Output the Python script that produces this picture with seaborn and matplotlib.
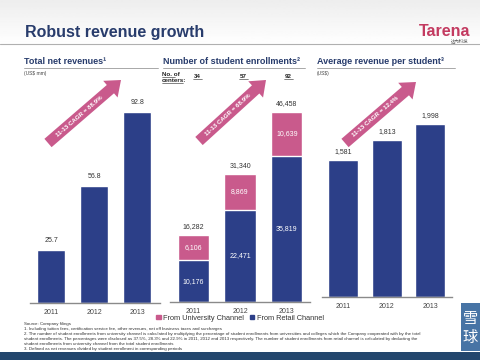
import numpy as np
import pandas as pd
import seaborn as sns
import matplotlib.pyplot as plt
from matplotlib.patches import FancyArrow, Rectangle, Patch

# 数据
years = ["2011", "2012", "2013"]
revenues = [25.7, 56.8, 92.8]
university = [6106, 8869, 10639]
retail = [10176, 22471, 35819]
totals = [16282, 31340, 46458]
centers = [34, 57, 92]
rev_per_student = [1581, 1813, 1998]
cagr_labels = ["11-13 CAGR = 88.9%", "11-13 CAGR = 68.9%", "11-13 CAGR = 12.4%"]

NAVY = "#2c3f88"
PINK = "#c95a8c"
TITLE_C = "#283c6c"

sns.set_theme(style="white")
plt.rcParams['font.family'] = ['Liberation Sans', 'DejaVu Sans']

fig = plt.figure(figsize=(4.8, 3.6), dpi=100)
W, H = 480, 360

def fbox(x0, x1, y_base, height_px):
    return [x0 / W, 1 - y_base / H, (x1 - x0) / W, height_px / H]

# 背景
bg = fig.add_axes([0, 0, 1, 1], zorder=0)
bg.set_xlim(0, W); bg.set_ylim(H, 0); bg.axis("off")
grad = np.linspace(0.93, 1.0, 50)[:, None]
bg.imshow(grad, cmap="gray", vmin=0, vmax=1, extent=[0, W, 45, 0], aspect="auto")

def style_ax(ax):
    sns.despine(ax=ax, left=True)
    ax.spines["bottom"].set_color("#8a8a8a")
    ax.spines["bottom"].set_linewidth(1.0)
    ax.set_yticks([])
    ax.set_xlabel("")
    ax.set_ylabel("")
    ax.tick_params(axis="x", length=0, labelsize=5, pad=4, colors="#444444")
    ax.patch.set_alpha(0)

# 面板1: 总收入
ax1 = fig.add_axes(fbox(30, 160, 303, 206), zorder=1)
df1 = pd.DataFrame({"year": years, "value": revenues})
sns.barplot(data=df1, x="year", y="value", color=NAVY, width=0.65, saturation=1, ax=ax1)
ax1.set_xlim(-0.49, 2.53); ax1.set_ylim(0, 100)
for i, v in enumerate(revenues):
    ax1.text(i, v + 3, f"{v:.1f}", ha="center", va="bottom", fontsize=5, color="#333333")
style_ax(ax1)

# 面板2: 学生人数 (堆叠)
ax2 = fig.add_axes(fbox(170, 310, 302, 204.5), zorder=1)
df2 = pd.DataFrame({"year": years, "total": totals, "retail": retail})
sns.barplot(data=df2, x="year", y="total", color=PINK, width=0.66, saturation=1, ax=ax2)
sns.barplot(data=df2, x="year", y="retail", color=NAVY, width=0.66, saturation=1, ax=ax2)
ax2.set_xlim(-0.49, 2.49); ax2.set_ylim(0, 50000)
for i in range(3):
    ax2.text(i, totals[i] + 1200, f"{totals[i]:,}", ha="center", va="bottom", fontsize=5, color="#333333")
    ax2.text(i, retail[i] + university[i] / 2, f"{university[i]:,}", ha="center", va="center", fontsize=5, color="white")
    ax2.text(i, retail[i] / 2, f"{retail[i]:,}", ha="center", va="center", fontsize=5, color="white")
style_ax(ax2)
ax2.legend(handles=[Patch(color=PINK, label="From University Channel"),
                    Patch(color=NAVY, label="From Retail Channel")],
           loc="center", bbox_to_anchor=(0.5, 1 - 318 / H), bbox_transform=fig.transFigure,
           ncol=2, frameon=False, fontsize=5.3, handlelength=0.6, handleheight=0.6,
           handletextpad=0.3, columnspacing=0.8, labelcolor="#333333")

# 面板3: 人均收入
ax3 = fig.add_axes(fbox(322, 452, 297, 190.5), zorder=1)
df3 = pd.DataFrame({"year": years, "value": rev_per_student})
sns.barplot(data=df3, x="year", y="value", color=NAVY, width=0.69, saturation=1, ax=ax3)
ax3.set_xlim(-0.49, 2.5); ax3.set_ylim(0, 2200)
for i, v in enumerate(rev_per_student):
    ax3.text(i, v + 60, f"{v:,}", ha="center", va="bottom", fontsize=5, color="#333333")
style_ax(ax3)

# 覆盖层: 标题、箭头、脚注
ov = fig.add_axes([0, 0, 1, 1], zorder=3)
ov.set_xlim(0, W); ov.set_ylim(H, 0); ov.axis("off")

ov.text(25, 33, "Robust revenue growth", fontsize=11.5, fontweight="bold", color=TITLE_C, va="center")
ov.plot([0, W], [44, 44], color="#b0b0b0", lw=0.8)
ov.text(470, 31, "Tarena", fontsize=11.5, fontweight="bold", color="#c33a60", ha="right", va="center")
ov.text(468, 41, "达内科技", fontsize=3.2, color="#555555", ha="right", va="center",
        family=["Noto Sans CJK SC", "DejaVu Sans"])

panel_titles = [(24, 158, "Total net revenues¹", "(US$ mm)"),
                (163, 305, "Number of student enrollments²", None),
                (317, 455, "Average revenue per student³", "(US$)")]
for x0, x1, t, unit in panel_titles:
    ov.text(x0, 62, t, fontsize=6.5, fontweight="bold", color=TITLE_C, va="center")
    ov.plot([x0, x1], [67.5, 67.5], color="#9a9a9a", lw=0.6)
    if unit:
        ov.text(x0, 73, unit, fontsize=3.5, color="#444444", va="center")

# 中心数量
ov.text(162, 74, "No. of", fontsize=4.5, fontweight="bold", color="#222222", va="center")
ov.text(162, 80, "centers:", fontsize=4.5, fontweight="bold", color="#222222", va="center")
ov.plot([162, 175], [76.5, 76.5], color="#222222", lw=0.4)
ov.plot([162, 183], [82.5, 82.5], color="#222222", lw=0.4)
for cx, c in zip([197, 243, 288], centers):
    ov.text(cx, 76, str(c), fontsize=4.5, fontweight="bold", color="#222222", ha="center", va="center")
    ov.plot([cx - 4.5, cx + 4.5], [79, 79], color="#222222", lw=0.4)

# CAGR 箭头
arrows = [((48, 143), (121, 80)), ((199, 141), (266, 80)), ((345, 143), (416, 82))]
for ((x0, y0), (x1, y1)), lab in zip(arrows, cagr_labels):
    ov.add_patch(FancyArrow(x0, y0, x1 - x0, y1 - y0, width=11, head_width=22, head_length=14,
                            length_includes_head=True, color=PINK, lw=0))
    ang = np.degrees(np.arctan2(y0 - y1, x1 - x0))
    ov.text(x0 + (x1 - x0) * 0.43, y0 + (y1 - y0) * 0.43, lab, rotation=ang, rotation_mode="anchor",
            ha="center", va="center", fontsize=4.4, fontweight="bold", color="white")

notes = [
    "Source: Company filings",
    "1. Including tuition fees, certification service fee, other revenues, net off business taxes and surcharges",
    "2. The number of student enrollments from university channel is calculated by multiplying the percentage of student enrollments from universities and colleges which the Company cooperated with by the total",
    "student enrollments. The percentages were disclosed as 37.5%, 28.3% and 22.9% in 2011, 2012 and 2013 respectively. The number of student enrollments from retail channel is calculated by deducting the",
    "student enrollments from university channel from the total student enrollments",
    "3. Defined as net revenues divided by student enrollment in corresponding periods",
]
for k, n in enumerate(notes):
    ov.text(24, 323.5 + k * 5.1, n, fontsize=3.15, color="#333333", va="center")

# 底部条和雪球标志
ov.add_patch(Rectangle((0, 352), W, 8, color="#23466d", lw=0))
ov.add_patch(Rectangle((461, 303), 19, 48, color="#4774a5", lw=0))
ov.text(470.5, 318, "雪", fontsize=11, color="white", ha="center", va="center",
        family=["Noto Sans CJK SC", "DejaVu Sans"])
ov.text(470.5, 337, "球", fontsize=11, color="white", ha="center", va="center",
        family=["Noto Sans CJK SC", "DejaVu Sans"])

fig.savefig("out.png", dpi=100)
